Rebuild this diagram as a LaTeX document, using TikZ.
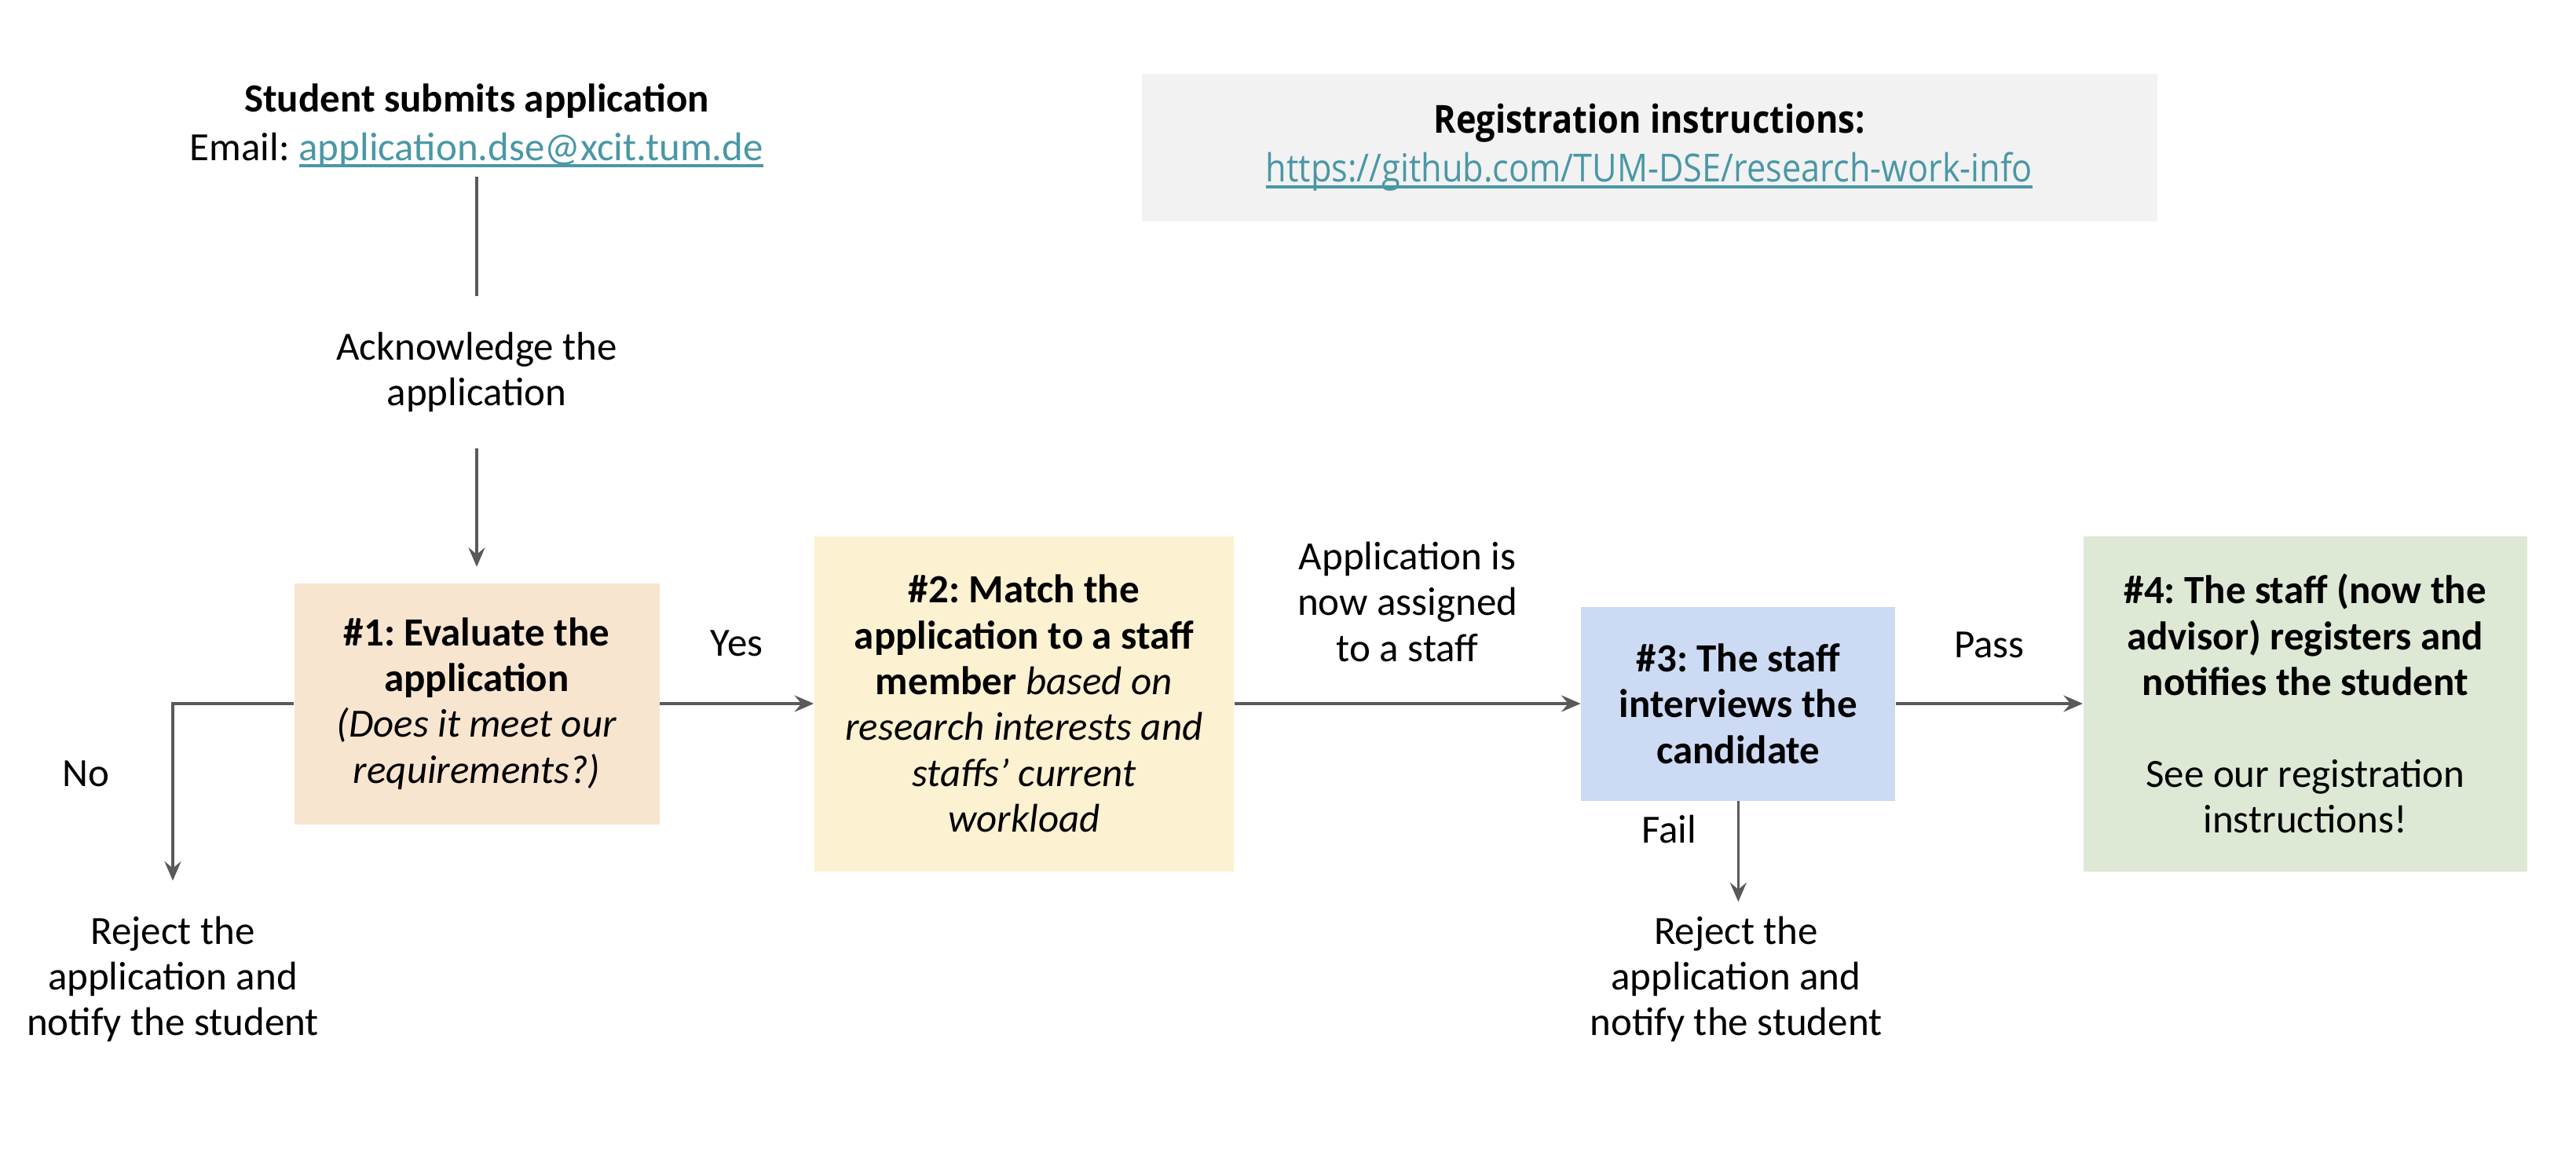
\documentclass[tikz,border=0pt]{standalone}
\usepackage{fontspec}
\setmainfont{Carlito}
\newfontfamily\regfont[FakeStretch=0.88]{Open Sans}
\usetikzlibrary{arrows.meta, positioning}

\definecolor{evalbg}{HTML}{F8E5D0}
\definecolor{matchbg}{HTML}{FCF1D0}
\definecolor{interbg}{HTML}{CCDAF4}
\definecolor{regbg}{HTML}{DDE8D5}
\definecolor{infobg}{HTML}{F2F2F2}
\definecolor{linkcol}{HTML}{4A97A6}
\definecolor{linecol}{HTML}{595959}

% underlined link, rule drawn through the descenders
\newcommand{\weblink}[1]{\textcolor{linkcol}{%
    \setbox0\hbox{#1}\rlap{\rule[-2.4pt]{\wd0}{1.1pt}}\box0}}

\begin{document}
\frenchspacing
\begin{tikzpicture}[
    font=\fontsize{14.5}{16.6}\selectfont,
    stepbox/.style={align=center, inner sep=2pt},
    note/.style={align=center},
    flow/.style={-{Stealth[length=7pt,width=6pt,inset=2.5pt]},
                 line width=1pt, draw=linecol},
    plain/.style={line width=1pt, draw=linecol},
]
\useasboundingbox (0,0) rectangle (32.8,-14.66);

% --- header: submission and info box ---
\node[note] (submit) at (6.07,-1.60) {
    \textbf{Student submits application}\\[1pt]
    Email: \weblink{application.dse@xcit.tum.de}
};

\node[note, fill=infobg, minimum width=129.3mm, minimum height=18.8mm,
      font=\regfont\fontsize{14}{16.6}\selectfont] (info) at (21.0,-1.88) {
    \textbf{Registration instructions:}\\[1pt]
    \weblink{https://github.com/TUM-DSE/research-work-info}
};

\node[note, inner ysep=4.5mm] (ack) at (6.07,-4.74) {Acknowledge the\\application};

% --- row of steps ---
\node[stepbox, fill=evalbg, minimum width=46.5mm, minimum height=30.7mm]
    (eval) at (6.07,-8.96) {
    \textbf{\#1: Evaluate the}\\
    \textbf{application}\\
    \textit{(Does it meet our}\\
    \textit{requirements?)}
};

\node[stepbox, fill=matchbg, minimum width=53.4mm, minimum height=42.7mm,
      right=19.6mm of eval] (match) {
    \textbf{\#2: Match the}\\
    \textbf{application to a staff}\\
    \textbf{member} \textit{based on}\\
    \textit{research interests and}\\
    \textit{staffs’ current}\\
    \textit{workload}
};

\node[stepbox, fill=interbg, minimum width=40mm, minimum height=24.7mm,
      right=44.1mm of match] (interview) {
    \textbf{\#3: The staff}\\
    \textbf{interviews the}\\
    \textbf{candidate}
};

\node[stepbox, fill=regbg, minimum width=56.5mm, minimum height=42.7mm,
      right=23.8mm of interview] (register) {
    \textbf{\#4: The staff (now the}\\
    \textbf{advisor) registers and}\\
    \textbf{notifies the student}\\[16.6pt]
    See our registration\\
    instructions!
};

% --- outcomes and labels ---
\node[note] (reject1) at (2.20,-12.47) {Reject the\\application and\\notify the student};
\node[note] (reject2) at (22.105,-12.47) {Reject the\\application and\\notify the student};
\node (no) at (1.09,-9.85) {No};
\node (fail) at (21.25,-10.56) {Fail};

% --- connectors ---
\draw[plain] (submit.south) -- (ack.north);
\draw[flow, shorten >=2mm] (ack.south) -- (eval.north);
\draw[flow, shorten >=3.3mm] (eval.west) -| (reject1.north);
\draw[flow] (eval.east) -- (match.west)
    node[midway, above=4.7mm] (yes) {Yes};
\draw[flow] (match.east) -- (interview.west)
    node[midway, above=4mm, align=center] (assigned) {Application is\\now assigned\\to a staff};
\draw[flow] (interview.east) -- (register.west)
    node[midway, above=4.5mm] (pass) {Pass};
\draw[flow, shorten >=0.6mm] (interview.south) -- (interview.south |- reject2.north);

\end{tikzpicture}
\end{document}
